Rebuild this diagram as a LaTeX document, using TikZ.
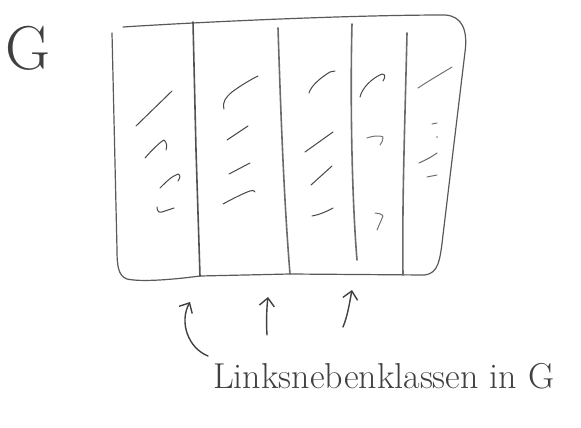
\documentclass[tikz,border=0pt]{standalone}
\usetikzlibrary{arrows.meta}
\begin{document}
\begin{tikzpicture}[x=1pt,y=-1pt,
  pencil/.style={draw=black!65,line width=1.2pt,line cap=round,line join=round},
  divider/.style={draw=black!58,line width=1.6pt,line cap=round},
  hatch/.style={draw=black!72,line width=1pt,line cap=round,line join=round},
  arrowline/.style={draw=black!75,line width=1.4pt,line cap=round,-{Straight Barb[length=8pt,width=15pt,line width=1.4pt]}},
  lbl/.style={text=black!75,inner sep=0pt}]
\useasboundingbox (0,0) rectangle (581,428);
% outer region G
\draw[pencil] (123,27) .. controls (200,22) and (350,15) .. (445,15)
  .. controls (462,16) and (468,30) .. (465,52)
  -- (443,235) .. controls (440,262) and (438,273) .. (425,275)
  -- (290,274) -- (200,276) .. controls (170,280) and (140,282) .. (127,279)
  .. controls (119,276) and (117,268) .. (117,250)
  -- (112,33);
% dividing lines between cosets
\draw[divider,draw=black!68] (193,22) -- (196,150) -- (200,276);
\draw[divider] (278,28) .. controls (281,120) and (284,200) .. (290,274);
\draw[divider] (352,24) .. controls (350,100) and (352,200) .. (357,260);
\draw[divider] (407,33) .. controls (405,120) and (402,200) .. (403,275);
% hatch marks column 1
\draw[hatch] (136,126) -- (172,91);
\draw[hatch] (145,158) .. controls (152,150) and (160,142) .. (164,140) .. controls (167,142) and (167,147) .. (166,150);
\draw[hatch] (160,188) .. controls (166,182) and (172,176) .. (178,174) .. controls (181,175) and (180,178) .. (178,181);
\draw[hatch] (157,207) .. controls (157,211) and (159,213) .. (162,212) -- (174,208);
% column 2
\draw[hatch] (224,109) .. controls (222,102) and (226,97) .. (232,92) .. controls (240,86) and (250,80) .. (258,76);
\draw[hatch] (227,140) -- (248,126);
\draw[hatch] (229,174) -- (250,163);
\draw[hatch] (223,204) .. controls (232,199) and (244,193) .. (250,191) .. controls (253,190) and (255,191) .. (255,192);
% column 3
\draw[hatch] (309,93) .. controls (311,86) and (320,78) .. (330,72) -- (335,71);
\draw[hatch] (305,152) -- (333,132);
\draw[hatch] (311,185) -- (332,166);
\draw[hatch] (312,216) .. controls (318,215) and (326,212) .. (333,208);
% column 4
\draw[hatch] (360,97) .. controls (362,88) and (372,78) .. (382,74) .. controls (386,74) and (385,78) .. (383,81);
\draw[hatch,draw=black!55] (367,138) .. controls (372,136) and (380,135) .. (383,137) .. controls (383,140) and (382,143) .. (380,145);
\draw[hatch,draw=black!55] (375,213) .. controls (378,213) and (382,214) .. (383,216) -- (377,230);
% column 5
\draw[hatch,draw=black!55] (418,88) .. controls (430,80) and (444,72) .. (452,67);
\draw[hatch,draw=black!55] (432,124) -- (437,123);
\fill[black!55] (437,137) circle (0.8pt);
\draw[hatch,draw=black!60] (419,163) .. controls (426,160) and (433,156) .. (437,153);
\draw[hatch,draw=black!55] (427,177) -- (437,175);
% labels
\node[lbl,font=\fontsize{62}{62}\selectfont] (G) at (28,48) {G};
\node[lbl,anchor=base west,font=\fontsize{36}{36}\selectfont] (cosets) at (213,388) {Linksnebenklassen in G};
% arrows
\coordinate (s1) at (208,356);
\coordinate (t1) at (190,302);
\coordinate (s2) at (267,335);
\coordinate (t2) at (268,297);
\coordinate (s3) at (343,327);
\coordinate (t3) at (352,290);
\draw[arrowline] (s1) .. controls (188,348) and (179,322) .. (t1);
\draw[arrowline] (s2) .. controls (266,320) and (267,305) .. (t2);
\draw[arrowline] (s3) .. controls (348,315) and (350,300) .. (t3);
\end{tikzpicture}
\end{document}
